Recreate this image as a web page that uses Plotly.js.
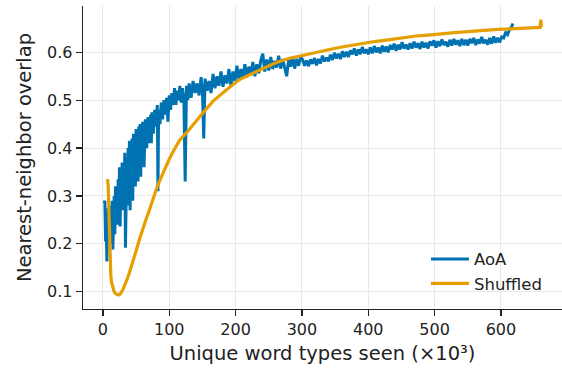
<!DOCTYPE html>
<html>
<head>
<meta charset="utf-8">
<script src="https://cdn.plot.ly/plotly-3.0.1.min.js"></script>
<style>html,body{margin:0;padding:0;background:#fff}#chart{width:562px;height:373px}</style>
</head>
<body>
<div id="chart"></div>
<script>
// AoA curve (unique word types seen, thousands -> nearest-neighbor overlap)
const aoaX = [2,3,4,5,6,7,8,9,10,11,12,13,14,15,16,17,18,19,20,21,22,23,24,25,26,27,28,29,30,31,32,33,34,35,36,37,38,39,40,41,42,43,44,45,46,47,48,49,50,51,52,53,54,55,56,57,58,59,60,
62,64,66,68,70,72,73,74,76,78,80,82,83,84,86,88,90,92,94,96,98,100,102,104,106,108,110,112,114,116,118,120,122,124,126,128,130,
133,136,139,142,145,148,150,152,154,157,160,163,166,169,172,175,178,181,184,187,190,193,196,199,202,205,208,211,214,217,220,223,226,229,232,235,238,241,244,247,250,253,256,259,262,265,268,271,274,277,280,283,286,289,292,295,298,
301,304,307,310,313,316,319,322,325,328,331,334,337,340,343,346,349,352,355,358,361,364,367,370,373,376,379,382,385,388,391,394,397,400,403,406,409,412,415,418,421,424,427,430,433,436,439,442,445,448,451,454,457,460,463,466,469,472,475,478,481,484,487,490,493,496,499,502,505,508,511,514,517,520,523,526,529,532,535,538,541,544,547,550,553,556,559,562,565,568,571,574,577,580,583,586,589,592,595,598,601,604,607,610,613,616,618];
const aoaY = [0.285,0.29,0.205,0.24,0.163,0.215,0.275,0.21,0.28,0.23,0.265,0.2,0.29,0.188,0.27,0.3,0.22,0.32,0.25,0.31,0.24,0.335,0.26,0.36,0.236,0.34,0.29,0.37,0.27,0.355,0.3,0.39,0.192,0.33,0.38,0.28,0.4,0.31,0.415,0.27,0.39,0.33,0.42,0.29,0.43,0.35,0.41,0.32,0.44,0.36,0.43,0.33,0.445,0.38,0.45,0.34,0.44,0.39,0.455,
0.36,0.46,0.4,0.465,0.41,0.47,0.41,0.475,0.43,0.48,0.445,0.49,0.31,0.48,0.45,0.495,0.46,0.5,0.47,0.505,0.455,0.51,0.48,0.515,0.49,0.525,0.49,0.52,0.5,0.53,0.495,0.525,0.505,0.33,0.53,0.5,0.535,
0.505,0.54,0.515,0.535,0.51,0.548,0.52,0.42,0.545,0.52,0.54,0.515,0.555,0.525,0.55,0.53,0.56,0.528,0.552,0.535,0.565,0.53,0.56,0.54,0.572,0.542,0.565,0.545,0.575,0.548,0.57,0.552,0.58,0.55,0.575,0.556,0.583,0.597,0.56,0.585,0.562,0.59,0.565,0.582,0.568,0.593,0.566,0.586,0.57,0.55,0.585,0.57,0.59,0.566,0.586,0.572,0.59,
0.585,0.572,0.583,0.571,0.585,0.576,0.588,0.573,0.586,0.577,0.593,0.581,0.589,0.581,0.595,0.584,0.599,0.587,0.597,0.586,0.602,0.59,0.601,0.59,0.604,0.596,0.608,0.593,0.606,0.596,0.611,0.598,0.606,0.596,0.61,0.598,0.613,0.6,0.61,0.598,0.614,0.601,0.612,0.6,0.615,0.606,0.618,0.603,0.616,0.606,0.621,0.608,0.616,0.606,0.619,0.608,0.622,0.61,0.619,0.607,0.622,0.61,0.62,0.608,0.623,0.614,0.625,0.61,0.623,0.613,0.627,0.615,0.622,0.612,0.626,0.614,0.628,0.616,0.625,0.613,0.628,0.615,0.626,0.614,0.628,0.619,0.63,0.615,0.627,0.618,0.632,0.619,0.626,0.616,0.63,0.618,0.633,0.62,0.63,0.621,0.632,0.63,0.641,0.637,0.648,0.653,0.66];

// Shuffled curve
const shufX = [7,8,9,10,11,12,13,15,17,19,21,23,25,27,30,33,36,40,45,50,55,60,66,70,75,80,85,92,100,108,116,128,141,150,166,180,191,206,216,230,241,252,264,280,299,316,330,345,360,372,385,397,412,430,450,472,490,510,530,550,573,595,613,630,645,659,660,661];
const shufY = [0.335,0.32,0.27,0.21,0.16,0.133,0.12,0.108,0.1,0.096,0.094,0.093,0.094,0.097,0.104,0.113,0.124,0.14,0.16,0.185,0.209,0.232,0.255,0.27,0.292,0.312,0.33,0.352,0.377,0.398,0.417,0.435,0.458,0.472,0.498,0.515,0.527,0.543,0.55,0.559,0.566,0.573,0.58,0.587,0.593,0.599,0.603,0.607,0.611,0.614,0.617,0.619,0.623,0.626,0.63,0.634,0.636,0.639,0.641,0.643,0.646,0.648,0.649,0.65,0.651,0.652,0.668,0.653];

const xTicks = [0,100,200,300,400,500,600];
const yTicks = [0.1,0.2,0.3,0.4,0.5,0.6];

const font = 'DejaVu Sans, sans-serif';
const traces = [
  {x: aoaX, y: aoaY, type: 'scatter', mode: 'lines', name: 'AoA',
   line: {color: '#0072B2', width: 3}},
  {x: shufX, y: shufY, type: 'scatter', mode: 'lines', name: 'Shuffled',
   line: {color: '#E69F00', width: 3.2}}
];
const axisCommon = {
  showgrid: true, gridcolor: '#e8e8e8', gridwidth: 1,
  zeroline: false, showline: true, linecolor: '#222', linewidth: 1.25,
  ticks: 'outside', ticklen: 6, tickwidth: 1.25, tickcolor: '#222',
  tickfont: {family: font, size: 16, color: '#222'}
};
const layout = {
  width: 562, height: 373,
  margin: {l: 83, r: 0, t: 6, b: 64},
  paper_bgcolor: '#fff', plot_bgcolor: '#fff',
  showlegend: true,
  legend: {x: 0.716, y: 0.222, xanchor: 'left', yanchor: 'top', itemwidth: 38,
    bgcolor: 'rgba(255,255,255,0)', font: {family: font, size: 16.5, color: '#222'}},
  xaxis: Object.assign({}, axisCommon, {
    range: [-30, 692], tickvals: xTicks, ticktext: xTicks.map(String),
    title: {text: 'Unique word types seen (×10³)', font: {family: font, size: 19.5, color: '#222'}, standoff: 8}
  }),
  yaxis: Object.assign({}, axisCommon, {
    range: [0.0639, 0.6967], tickvals: yTicks, ticktext: yTicks.map(v => v.toFixed(1)),
    title: {text: 'Nearest-neighbor overlap', font: {family: font, size: 19.5, color: '#222'}, standoff: 10}
  })
};
Plotly.newPlot('chart', traces, layout, {displayModeBar: false, staticPlot: true});
</script>
</body>
</html>
